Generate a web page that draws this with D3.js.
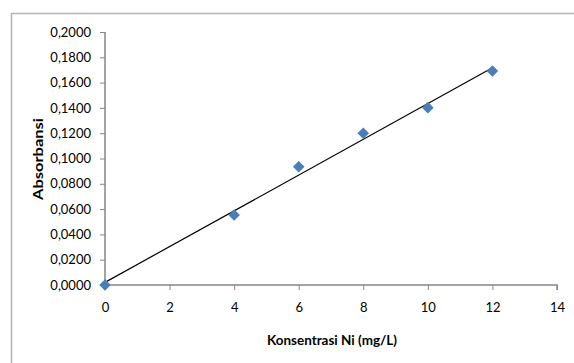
<!DOCTYPE html>
<html>
<head>
<meta charset="utf-8">
<script src="https://cdn.jsdelivr.net/npm/d3@7"></script>
<style>
  body { margin: 0; background: #fff; }
  text { font-family: Lato, "Open Sans", sans-serif; fill: #000; }
</style>
</head>
<body>
<div id="chart"></div>
<script>
// data
const konsentrasi = [0, 4, 6, 8, 10, 12];
const absorbansi = [0, 0.0553, 0.0935, 0.1199, 0.1402, 0.1692];
const xTicks = [0, 2, 4, 6, 8, 10, 12, 14];
const yTicks = [0, 0.02, 0.04, 0.06, 0.08, 0.1, 0.12, 0.14, 0.16, 0.18, 0.2];

const width = 574, height = 363;
const margin = { left: 105, right: 17, top: 32, bottom: 78 };

const svg = d3.select("#chart")
  .append("svg")
  .attr("width", width)
  .attr("height", height);

// outer chart frame (only left and top edges visible)
svg.append("path")
  .attr("d", "M11.5," + height + "V13.5H" + width)
  .attr("fill", "none")
  .attr("stroke", "#b3b3b3")
  .attr("stroke-width", 1.5);

// scales
let xScale = d3.scaleLinear()
  .domain([0, 14])
  .range([margin.left, width - margin.right]);

let yScale = d3.scaleLinear()
  .domain([0, 0.2])
  .range([height - margin.bottom, margin.top]);

const fmt = d => d3.format(".4f")(d).replace(".", ",");

// y axis
let yAxis = svg.append("g")
  .attr("transform", "translate(" + margin.left + ",0)")
  .call(d3.axisLeft(yScale).tickValues(yTicks).tickFormat(fmt).tickSize(5).tickPadding(9));

// x axis
let xAxis = svg.append("g")
  .attr("transform", "translate(0," + (height - margin.bottom) + ")")
  .call(d3.axisBottom(xScale).tickValues(xTicks).tickFormat(d3.format("d")).tickSize(5).tickPadding(13));

[yAxis, xAxis].forEach(g => {
  g.select(".domain").attr("stroke", "#868686").attr("stroke-width", 1.5);
  g.selectAll(".tick line").attr("stroke", "#868686").attr("stroke-width", 1);
  g.selectAll(".tick text")
    .style("font-family", "Lato, 'Open Sans', sans-serif")
    .style("font-size", "13px")
    .attr("fill", "#000");
});
yAxis.select(".domain").attr("d", "M0," + yScale(0.2) + "V" + yScale(0));
xAxis.select(".domain").attr("d", "M" + xScale(0) + ",5V0H" + xScale(14) + "V5");

// linear trendline (least squares fit of the data)
const mx = d3.mean(konsentrasi), my = d3.mean(absorbansi);
const slope = d3.sum(konsentrasi, (x, i) => (x - mx) * (absorbansi[i] - my)) /
  d3.sum(konsentrasi, x => (x - mx) * (x - mx));
const intercept = my - slope * mx;
const xEnds = [d3.min(konsentrasi), d3.max(konsentrasi)];

svg.append("path")
  .datum(xEnds)
  .attr("d", d3.line()
    .x(d => xScale(d))
    .y(d => yScale(intercept + slope * d)))
  .attr("fill", "none")
  .attr("stroke", "#000")
  .attr("stroke-width", 1.2);

// markers
svg.selectAll(".pt")
  .data(konsentrasi)
  .enter()
  .append("path")
  .attr("class", "pt")
  .attr("d", d3.symbol().type(d3.symbolDiamond2).size(85))
  .attr("transform", (d, i) => "translate(" + xScale(d) + "," + yScale(absorbansi[i]) + ")")
  .attr("fill", "#4a7ebb");

// axis titles
svg.append("text")
  .text("Absorbansi")
  .attr("transform", "translate(43,159) rotate(-90)")
  .attr("text-anchor", "middle")
  .attr("textLength", 82)
  .attr("lengthAdjust", "spacingAndGlyphs")
  .style("font-size", "13px")
  .style("font-weight", "bold");

svg.append("text")
  .text("Konsentrasi Ni (mg/L)")
  .attr("x", 332)
  .attr("y", 345)
  .attr("text-anchor", "middle")
  .attr("textLength", 130)
  .attr("lengthAdjust", "spacingAndGlyphs")
  .style("font-size", "13.5px")
  .style("font-weight", "bold");
</script>
</body>
</html>
